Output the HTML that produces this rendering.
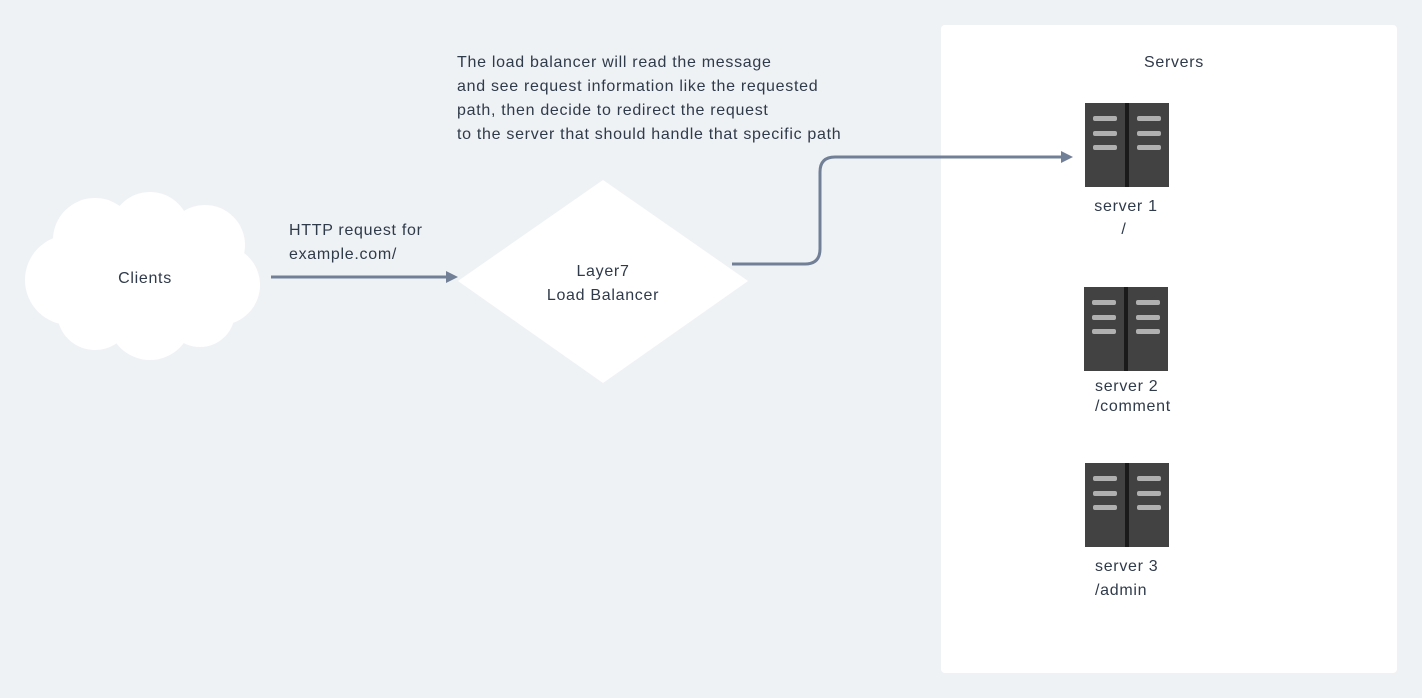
<!DOCTYPE html>
<html><head><style>
html,body{margin:0;padding:0;background:#eff2f5;}
svg{display:block;}
text{font-family:"Liberation Sans",sans-serif;font-size:16px;fill:#2f3a4a;letter-spacing:0.7px;}
</style></head><body>
<svg width="1422" height="698" viewBox="0 0 1422 698">
<rect width="1422" height="698" fill="#eff2f5"/>
<rect x="941" y="25" width="456" height="648" rx="4" fill="#fff"/>
<text x="1174" y="67" text-anchor="middle">Servers</text>
<!-- cloud -->
<g fill="#fff">
<circle cx="95" cy="240" r="42"/><circle cx="150" cy="232" r="40"/><circle cx="205" cy="245" r="40"/>
<circle cx="70" cy="280" r="45"/><circle cx="220" cy="285" r="40"/>
<circle cx="95" cy="312" r="38"/><circle cx="150" cy="318" r="42"/><circle cx="200" cy="312" r="35"/>
<ellipse cx="145" cy="278" rx="105" ry="60"/>
</g>
<text x="145" y="283" text-anchor="middle">Clients</text>
<!-- arrow 1 -->
<line x1="271" y1="277" x2="450" y2="277" stroke="#718096" stroke-width="3"/>
<polygon points="458,277 446,271 446,283" fill="#718096"/>
<text x="289" y="235">HTTP request for</text>
<text x="289" y="259">example.com/</text>
<!-- diamond -->
<polygon points="603,180 748,281 603,383 458,281" fill="#fff"/>
<text x="603" y="276" text-anchor="middle">Layer7</text>
<text x="603" y="300" text-anchor="middle">Load Balancer</text>
<text x="457" y="67">The load balancer will read the message</text>
<text x="457" y="91">and see request information like the requested</text>
<text x="457" y="115">path, then decide to redirect the request</text>
<text x="457" y="139">to the server that should handle that specific path</text>
<!-- arrow 2 -->
<path d="M732 264 H805 Q820 264 820 249 V172 Q820 157 835 157 H1064" fill="none" stroke="#718096" stroke-width="3"/>
<polygon points="1073,157 1061,151 1061,163" fill="#718096"/>
<!-- servers -->
<g id="s">
<rect x="1085" y="103" width="84" height="84" fill="#424242"/>
<rect x="1125" y="103" width="4" height="84" fill="#1a1a1a"/>
<g fill="#b0b0b0">
<rect x="1093" y="116" width="24" height="5" rx="2"/><rect x="1093" y="131" width="24" height="5" rx="2"/><rect x="1093" y="145" width="24" height="5" rx="2"/>
<rect x="1137" y="116" width="24" height="5" rx="2"/><rect x="1137" y="131" width="24" height="5" rx="2"/><rect x="1137" y="145" width="24" height="5" rx="2"/>
</g>
</g>
<use href="#s" x="-1" y="184"/>
<use href="#s" x="0" y="360"/>
<text x="1126" y="211" text-anchor="middle">server 1</text>
<text x="1124" y="234" text-anchor="middle">/</text>
<text x="1095" y="391">server 2</text>
<text x="1095" y="411">/comment</text>
<text x="1095" y="571">server 3</text>
<text x="1095" y="595">/admin</text>
</svg>
</body></html>
